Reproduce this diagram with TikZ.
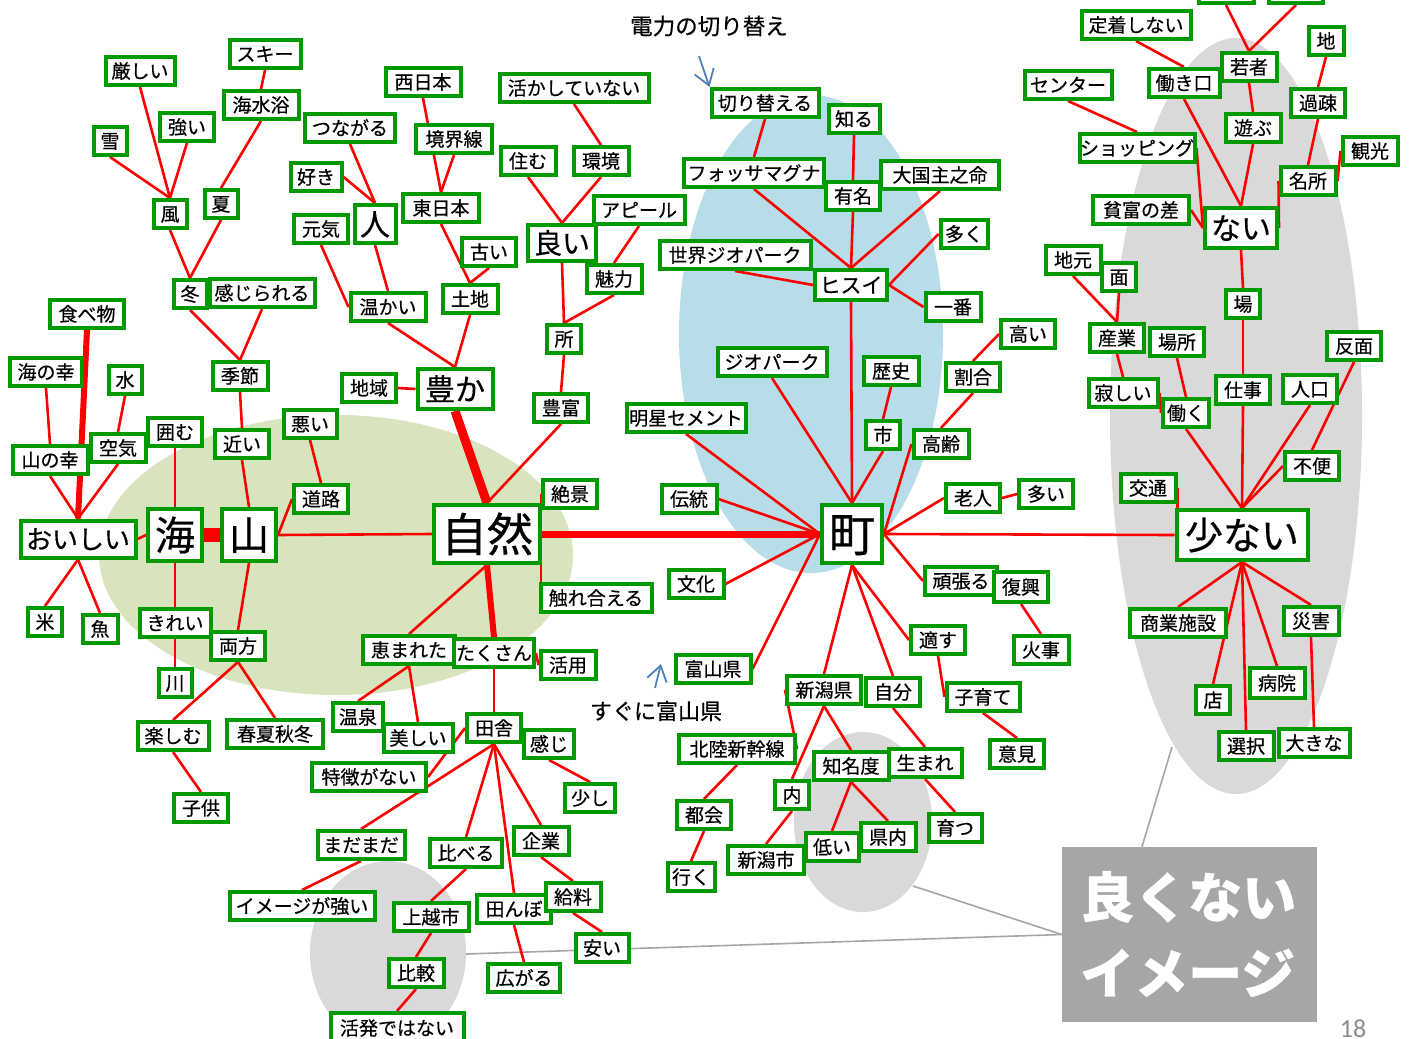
\documentclass[tikz,border=0pt]{standalone}
\usepackage{fontspec}
\setmainfont{Noto Sans CJK JP}[RawFeature={embolden=0.5}]
\newfontfamily\pnfont{Carlito}
\usetikzlibrary{arrows.meta,calc}
\definecolor{boxgreen}{RGB}{0,153,0}
\definecolor{lblue}{RGB}{183,222,232}
\definecolor{lolive}{RGB}{215,228,189}
\definecolor{lgray}{RGB}{217,217,217}
\definecolor{cgray}{RGB}{166,166,166}
\definecolor{abl}{RGB}{79,129,189}
\definecolor{pgray}{RGB}{140,140,140}
\pgfdeclarelayer{bg}
\pgfdeclarelayer{edges}
\pgfsetlayers{bg,edges,main}
\tikzset{
  bx/.style={draw=boxgreen, line width=4pt, fill=white, inner sep=0pt,
    minimum height=28pt, font=\fontsize{19}{19}\selectfont,
    text height=16.7pt, text depth=2.3pt},
  ln/.style={draw=red, line width=2.6pt},
  thk/.style={draw=red, line width=#1},
  callln/.style={draw=cgray, line width=1.6pt},
  barrow/.style={draw=abl, line width=1.8pt, -{Straight Barb[length=15pt,width=20pt,line width=1.8pt]}},
  calltxt/.style={text=white, inner sep=0pt, font=\bfseries\fontsize{54}{54}\selectfont,
    text height=47.5pt, text depth=6.5pt},
}
\begin{document}
\begin{tikzpicture}[x=1pt,y=-1pt]
\useasboundingbox (0,0) rectangle (1409,1039);
\begin{pgfonlayer}{bg}
  \fill[white] (0,0) rectangle (1409,1039);
  \fill[lolive] (336,555) ellipse [x radius=237, y radius=140];
  \fill[lblue] (811,334) ellipse [x radius=132, y radius=239];
  \fill[lgray] (1236,416) ellipse [x radius=126, y radius=378];
  \fill[lgray] (863,822) ellipse [x radius=69, y radius=90];
  \fill[lgray] (388,953) ellipse [x radius=78, y radius=92];
\end{pgfonlayer}

% free texts
\node[font=\fontsize{22.5}{22.5}\selectfont, inner sep=0pt] (title) at (709,26) {電力の切り替え};
\node[font=\fontsize{22}{22}\selectfont, inner sep=0pt] (sugu) at (656,711) {すぐに富山県};
\node[text=pgray, font=\pnfont\fontsize{26}{26}\selectfont, inner sep=0pt, anchor=south] (pnum) at (1353,1038) {18};

% nodes: left area
\node[bx, minimum width=69pt] (kibishii) at (140,71) {厳しい};
\node[bx, minimum width=71pt] (ski) at (265,54) {スキー};
\node[bx, minimum width=33pt] (yuki) at (110,141) {雪};
\node[bx, minimum width=54pt] (tsuyoi) at (187,127) {強い};
\node[bx, minimum width=75pt] (kaisui) at (261,105) {海水浴};
\node[bx, minimum width=90pt] (tsunagaru) at (350,128) {つながる};
\node[bx, minimum width=51pt] (suki) at (316,177) {好き};
\node[bx, minimum width=33pt] (kaze) at (170,214) {風};
\node[bx, minimum width=33pt] (natsu) at (221,204) {夏};
\node[bx, minimum width=54pt] (genki) at (321,229) {元気};
\node[bx, minimum width=41pt, minimum height=38pt, font=\fontsize{30}{30}\selectfont, text height=26.4pt, text depth=3.6pt] (hito) at (375,224) {人};
\node[bx, minimum width=33pt] (fuyu) at (190,294) {冬};
\node[bx, minimum width=105pt] (kanjirareru) at (262,293) {感じられる};
\node[bx, minimum width=74pt] (tabemono) at (87,314) {食べ物};
\node[bx, minimum width=75pt] (nishinihon) at (423,82) {西日本};
\node[bx, minimum width=149pt] (ikashite) at (574,88) {活かしていない};
\node[bx, minimum width=76pt] (kyoukai) at (454,139) {境界線};
\node[bx, minimum width=55pt] (sumu) at (528,161) {住む};
\node[bx, minimum width=55pt] (kankyou) at (601,161) {環境};
\node[bx, minimum width=76pt] (higashinihon) at (441,208) {東日本};
\node[bx, minimum width=91pt] (appeal) at (639,210) {アピール};
\node[bx, minimum width=54pt] (furui) at (489,252) {古い};
\node[bx, minimum width=68pt, minimum height=36pt, font=\fontsize{28}{28}\selectfont, text height=24.6pt, text depth=3.4pt] (yoi) at (562,243) {良い};
\node[bx, minimum width=55pt] (miryoku) at (614,279) {魅力};
\node[bx, minimum width=75pt] (atatakai) at (388,307) {温かい};
\node[bx, minimum width=55pt] (tochi) at (470,299) {土地};
\node[bx, minimum width=34pt] (tokoro) at (564,339) {所};

% top middle
\node[bx, minimum width=107pt] (kirikaeru) at (765,103) {切り替える};
\node[bx, minimum width=51pt] (shiru) at (854,119) {知る};
\node[bx, minimum width=140pt] (fossa) at (754,173) {フォッサマグナ};
\node[bx, minimum width=118pt] (ookuni) at (940,175) {大国主之命};
\node[bx, minimum width=54pt] (yuumei) at (853,196) {有名};
\node[bx, minimum width=47pt] (ooku) at (964,234) {多く};
\node[bx, minimum width=151pt] (sekaigeo) at (735,255) {世界ジオパーク};
\node[bx, minimum width=72pt, minimum height=30pt, font=\fontsize{21}{21}\selectfont, text height=18.5pt, text depth=2.5pt] (hisui) at (851,285) {ヒスイ};
\node[bx, minimum width=55pt] (ichiban) at (953,307) {一番};
\node[bx, minimum width=54pt] (takai) at (1028,334) {高い};

% top right
\node[bx, minimum width=55pt] (topa) at (1226,-11) {};
\node[bx, minimum width=54pt] (topb) at (1296,-11) {};
\node[bx, minimum width=109pt] (teichaku) at (1136,25) {定着しない};
\node[bx, minimum width=35pt] (chi) at (1326,41) {地};
\node[bx, minimum width=87pt] (center) at (1068,85) {センター};
\node[bx, minimum width=71pt] (hatarakiguchi) at (1184,83) {働き口};
\node[bx, minimum width=55pt] (wakamono) at (1249,67) {若者};
\node[bx, minimum width=54pt] (kaso) at (1318,103) {過疎};
\node[bx, minimum width=55pt] (asobu) at (1253,128) {遊ぶ};
\node[bx, minimum width=55pt] (kankou) at (1370,151) {観光};
\node[bx, minimum width=115pt] (shopping) at (1137,148) {ショッピング};
\node[bx, minimum width=55pt] (meisho) at (1308,181) {名所};
\node[bx, minimum width=96pt] (hinpu) at (1141,210) {貧富の差};
\node[bx, minimum width=72pt, minimum height=40pt, font=\fontsize{30}{30}\selectfont, text height=26.4pt, text depth=3.6pt] (nai) at (1241,228) {ない};
\node[bx, minimum width=55pt] (jimoto) at (1073,260) {地元};
\node[bx, minimum width=34pt] (men) at (1119,277) {面};
\node[bx, minimum width=34pt] (ba) at (1243,304) {場};
\node[bx, minimum width=54pt] (sangyou) at (1117,338) {産業};
\node[bx, minimum width=54pt] (basho) at (1177,342) {場所};
\node[bx, minimum width=54pt] (hanmen) at (1354,346) {反面};

% left middle
\node[bx, minimum width=72pt] (uminosachi) at (46,372) {海の幸};
\node[bx, minimum width=33pt] (mizu) at (125,380) {水};
\node[bx, minimum width=55pt] (kisetsu) at (240,376) {季節};
\node[bx, minimum width=54pt] (chiiki) at (369,388) {地域};
\node[bx, minimum width=53pt] (warui) at (310,424) {悪い};
\node[bx, minimum width=54pt] (kakomu) at (175,432) {囲む};
\node[bx, minimum width=55pt] (kuuki) at (118,448) {空気};
\node[bx, minimum width=75pt] (yamanosachi) at (50,460) {山の幸};
\node[bx, minimum width=54pt] (chikai) at (242,444) {近い};
\node[bx, minimum width=54pt] (douro) at (321,499) {道路};
\node[bx, minimum width=115pt, minimum height=37pt, font=\fontsize{26}{26}\selectfont, text height=22.9pt, text depth=3.1pt] (oishii) at (78,539) {おいしい};
\node[bx, minimum width=54pt, minimum height=52pt, font=\fontsize{40}{40}\selectfont, text height=35.2pt, text depth=4.8pt] (umi) at (175,535) {海};
\node[bx, minimum width=54pt, minimum height=52pt, font=\fontsize{40}{40}\selectfont, text height=35.2pt, text depth=4.8pt] (yama) at (249,535) {山};
\node[bx, minimum width=34pt] (kome) at (45,622) {米};
\node[bx, minimum width=35pt] (sakana) at (100,629) {魚};
\node[bx, minimum width=71pt] (kirei) at (175,623) {きれい};
\node[bx, minimum width=54pt] (ryouhou) at (238,646) {両方};
\node[bx, minimum width=33pt] (kawa) at (175,683) {川};
\node[bx, minimum width=75pt, minimum height=40pt, font=\fontsize{30}{30}\selectfont, text height=26.4pt, text depth=3.6pt] (yutaka) at (455,389) {豊か};
\node[bx, minimum width=54pt] (houfu) at (561,408) {豊富};
\node[bx, minimum width=119pt] (myoujou) at (686,418) {明星セメント};
\node[bx, minimum width=54pt] (zekkei) at (570,494) {絶景};
\node[bx, minimum width=55pt] (dentou) at (689,499) {伝統};
\node[bx, minimum width=106pt, minimum height=58pt, font=\fontsize{46}{46}\selectfont, text height=40.5pt, text depth=5.5pt] (shizen) at (487,534) {自然};
\node[bx, minimum width=111pt] (fureau) at (596,598) {触れ合える};
\node[bx, minimum width=55pt] (bunka) at (696,584) {文化};
\node[bx, minimum width=92pt] (megumareta) at (409,650) {恵まれた};
\node[bx, minimum width=80pt] (takusan) at (494,653) {たくさん};
\node[bx, minimum width=55pt] (katsuyou) at (568,665) {活用};
\node[bx, minimum width=75pt] (toyamaken) at (713,669) {富山県};

% center
\node[bx, minimum width=109pt] (geopark) at (772,362) {ジオパーク};
\node[bx, minimum width=55pt] (rekishi) at (891,371) {歴史};
\node[bx, minimum width=54pt] (wariai) at (973,377) {割合};
\node[bx, minimum width=34pt] (shi) at (883,435) {市};
\node[bx, minimum width=55pt] (kourei) at (941,444) {高齢};
\node[bx, minimum width=54pt] (roujin) at (973,498) {老人};
\node[bx, minimum width=54pt] (ooi) at (1046,494) {多い};
\node[bx, minimum width=60pt, minimum height=58pt, font=\fontsize{46}{46}\selectfont, text height=40.5pt, text depth=5.5pt] (machi) at (852,534) {町};
\node[bx, minimum width=72pt] (ganbaru) at (961,581) {頑張る};
\node[bx, minimum width=54pt, minimum height=30pt] (fukkou) at (1021,587) {復興};
\node[bx, minimum width=54pt] (tekisu) at (938,640) {適す};
\node[bx, minimum width=55pt] (kaji) at (1041,650) {火事};

% right middle
\node[bx, minimum width=69pt] (sabishii) at (1123,393) {寂しい};
\node[bx, minimum width=46pt] (hataraku) at (1186,413) {働く};
\node[bx, minimum width=54pt] (shigoto) at (1243,390) {仕事};
\node[bx, minimum width=54pt] (jinkou) at (1310,389) {人口};
\node[bx, minimum width=54pt] (fuben) at (1312,466) {不便};
\node[bx, minimum width=55pt] (koutsuu) at (1148,488) {交通};
\node[bx, minimum width=131pt, minimum height=50pt, font=\fontsize{38}{38}\selectfont, text height=33.4pt, text depth=4.6pt] (sukunai) at (1242,535) {少ない};
\node[bx, minimum width=96pt] (shougyou) at (1178,623) {商業施設};
\node[bx, minimum width=55pt] (saigai) at (1311,621) {災害};
\node[bx, minimum width=55pt, minimum height=30pt] (byouin) at (1277,683) {病院};
\node[bx, minimum width=34pt] (mise) at (1213,700) {店};
\node[bx, minimum width=55pt] (sentaku) at (1246,746) {選択};
\node[bx, minimum width=71pt] (ookina) at (1314,743) {大きな};

% bottom left
\node[bx, minimum width=71pt] (tanoshimu) at (173,736) {楽しむ};
\node[bx, minimum width=96pt] (shunka) at (275,734) {春夏秋冬};
\node[bx, minimum width=54pt] (kodomo) at (201,808) {子供};
\node[bx, minimum width=50pt] (onsen) at (358,717) {温泉};
\node[bx, minimum width=69pt] (utsukushii) at (418,738) {美しい};
\node[bx, minimum width=114pt] (tokuchou) at (369,777) {特徴がない};
\node[bx, minimum width=54pt] (inaka) at (494,728) {田舎};
\node[bx, minimum width=50pt] (kanji) at (549,744) {感じ};
\node[bx, minimum width=50pt] (sukoshi) at (590,798) {少し};
\node[bx, minimum width=87pt] (madamada) at (361,845) {まだまだ};
\node[bx, minimum width=145pt] (image) at (302,906) {イメージが強い};
\node[bx, minimum width=72pt] (kuraberu) at (466,853) {比べる};
\node[bx, minimum width=55pt] (kigyou) at (541,841) {企業};
\node[bx, minimum width=75pt] (jouetsu) at (431,917) {上越市};
\node[bx, minimum width=74pt] (tanbo) at (514,909) {田んぼ};
\node[bx, minimum width=55pt] (kyuuryou) at (573,897) {給料};
\node[bx, minimum width=53pt] (yasui) at (602,948) {安い};
\node[bx, minimum width=55pt] (hikaku) at (416,973) {比較};
\node[bx, minimum width=72pt] (hirogaru) at (524,978) {広がる};
\node[bx, minimum width=133pt, minimum height=30pt] (kappatsu) at (397,1028) {活発ではない};

% bottom middle
\node[bx, minimum width=74pt] (niigataken) at (824,690) {新潟県};
\node[bx, minimum width=54pt] (jibun) at (893,692) {自分};
\node[bx, minimum width=73pt] (kosodate) at (983,697) {子育て};
\node[bx, minimum width=116pt] (hokuriku) at (737,749) {北陸新幹線};
\node[bx, minimum width=75pt] (chimeido) at (851,766) {知名度};
\node[bx, minimum width=73pt] (umare) at (925,763) {生まれ};
\node[bx, minimum width=54pt] (iken) at (1017,754) {意見};
\node[bx, minimum width=34pt] (uchi) at (792,795) {内};
\node[bx, minimum width=54pt] (tokai) at (704,815) {都会};
\node[bx, minimum width=53pt] (sodatsu) at (955,828) {育つ};
\node[bx, minimum width=55pt] (kennai) at (888,837) {県内};
\node[bx, minimum width=53pt] (hikui) at (832,847) {低い};
\node[bx, minimum width=76pt] (niigatashi) at (766,860) {新潟市};
\node[bx, minimum width=47pt] (iku) at (691,877) {行く};

% callout
\node[fill=cgray, inner sep=0pt, minimum width=255pt, minimum height=175pt] (callout) at (1189.5,934.5) {};
\node[calltxt, anchor=west] (cl1) at (1080,897) {良くない};
\node[calltxt, anchor=west] (cl2) at (1080,973) {イメージ};
\coordinate (ce1) at (1172,747);
\coordinate (ce2) at (913,886);
\coordinate (ce3) at (466,954);
\coordinate (cs1) at ($(callout.north west)!0.314!(callout.north east)$);

% blue arrows
\coordinate (ba1) at (699,56);
\coordinate (ba2) at (655,688);
\coordinate (bt2) at (661,664);

\begin{pgfonlayer}{edges}
  \draw[callln] (cs1) -- (ce1);
  \draw[callln] (callout.west) -- (ce2);
  \draw[callln] (callout.west) -- (ce3);
  \draw[barrow] (ba1) -- (kirikaeru.north west);
  \draw[barrow] (ba2) -- (bt2);

  \draw[ln] (kibishii.south) -- (kaze.north);
  \draw[ln] (yuki.south) -- (kaze.north);
  \draw[ln] (tsuyoi.south) -- (kaze.north);
  \draw[ln] (ski.south) -- (kaisui.north);
  \draw[ln] (kaisui.south) -- (natsu.north);
  \draw[ln] (kaze.south) -- (fuyu.north);
  \draw[ln] (natsu.south) -- (fuyu.north);
  \draw[ln] (fuyu.south) -- (kisetsu.north);
  \draw[ln] (kanjirareru.south) -- (kisetsu.north);
  \draw[ln] (suki.east) -- (hito.north);
  \draw[ln] (tsunagaru.south) -- (hito.north);
  \draw[ln] (genki.south) -- (atatakai.west);
  \draw[ln] (hito.south) -- (atatakai.north);
  \draw[ln] (atatakai.south) -- (yutaka.north);
  \draw[ln] (tochi.south) -- (yutaka.north);
  \draw[ln] (nishinihon.south) -- (higashinihon.north);
  \draw[ln] (kyoukai.south) -- (higashinihon.north);
  \draw[ln] (higashinihon.south) -- (tochi.north);
  \draw[ln] (furui.south) -- (tochi.north);
  \draw[ln] (ikashite.south) -- (kankyou.north);
  \draw[ln] (sumu.south) -- (yoi.north);
  \draw[ln] (kankyou.south) -- (yoi.north);
  \draw[ln] (appeal.south) -- (miryoku.north);
  \draw[ln] (yoi.south) -- (tokoro.north);
  \draw[ln] (miryoku.south) -- (tokoro.north);
  \draw[ln] (tokoro.south) -- (houfu.north);
  \draw[ln] (houfu.south) -- (shizen.north);
  \draw[thk=9pt] (yutaka.south) -- (shizen.north);
  \draw[ln] (chiiki.east) -- (yutaka.west);
  \draw[thk=6pt] (tabemono.south) -- (oishii.north);
  \draw[ln] (uminosachi.south) -- (yamanosachi.north);
  \draw[ln] (mizu.south) -- (kuuki.north);
  \draw[ln] (yamanosachi.south) -- (oishii.north);
  \draw[ln] (kuuki.south) -- (oishii.north);
  \draw[ln] (oishii.east) -- (umi.west);
  \draw[thk=14pt] (umi.east) -- (yama.west);
  \draw[ln] (kakomu.south) -- (umi.north);
  \draw[ln] (kisetsu.south) -- (chikai.north);
  \draw[ln] (chikai.south) -- (yama.north);
  \draw[ln] (warui.south) -- (douro.north);
  \draw[ln] (douro.west) -- (yama.east);
  \draw[ln] (yama.east) -- (shizen.west);
  \draw[ln] (oishii.south) -- (kome.north);
  \draw[ln] (oishii.south) -- (sakana.north);
  \draw[ln] (umi.south) -- (kirei.north);
  \draw[ln] (kirei.south) -- (kawa.north);
  \draw[ln] (yama.south) -- (ryouhou.north);
  \draw[ln] (ryouhou.south) -- (tanoshimu.north);
  \draw[ln] (ryouhou.south) -- (shunka.north);
  \draw[ln] (tanoshimu.south) -- (kodomo.north);
  \draw[thk=7pt] (shizen.east) -- (machi.west);
  \draw[ln] (zekkei.west) -- (zekkei.west |- fureau.west);
  \draw[ln] (shizen.south) -- (megumareta.north);
  \draw[thk=6pt] (shizen.south) -- (takusan.north);
  \draw[ln] (takusan.east) -- (katsuyou.west);
  \draw[ln] (megumareta.south) -- (onsen.north);
  \draw[ln] (megumareta.south) -- (utsukushii.north);
  \draw[ln] (takusan.south) -- (inaka.north);
  \draw[ln] (inaka.east) -- (inaka.east |- kanji.west);
  \draw[ln] (kanji.south) -- (sukoshi.north);
  \draw[ln] (inaka.west) -- (tokuchou.east);
  \draw[ln] (inaka.south) -- (madamada.north);
  \draw[ln] (inaka.south) -- (kuraberu.north);
  \draw[ln] (inaka.south) -- (tanbo.north);
  \draw[ln] (inaka.south) -- (kigyou.north);
  \draw[ln] (kigyou.south) -- (kyuuryou.north);
  \draw[ln] (kyuuryou.south) -- (yasui.north);
  \draw[ln] (kuraberu.south) -- (jouetsu.north);
  \draw[ln] (jouetsu.south) -- (hikaku.north);
  \draw[ln] (hikaku.south) -- (kappatsu.north);
  \draw[ln] (tanbo.south) -- (hirogaru.north);
  \draw[ln] (madamada.south) -- (image.north);
  \draw[ln] (kirikaeru.south) -- (fossa.north);
  \draw[ln] (shiru.south) -- (yuumei.north);
  \draw[ln] (fossa.south) -- (hisui.north);
  \draw[ln] (yuumei.south) -- (hisui.north);
  \draw[ln] (ookuni.south) -- (hisui.north);
  \draw[ln] (sekaigeo.south) -- (hisui.west);
  \draw[ln] (ooku.west) -- (hisui.east);
  \draw[ln] (ichiban.west) -- (hisui.east);
  \draw[ln] (hisui.south) -- (machi.north);
  \draw[ln] (geopark.south) -- (machi.north);
  \draw[ln] (myoujou.south) -- (machi.west);
  \draw[ln] (dentou.east) -- (machi.west);
  \draw[ln] (bunka.east) -- (machi.west);
  \draw[ln] (toyamaken.east) -- (machi.west);
  \draw[ln] (rekishi.south) -- (shi.north);
  \draw[ln] (shi.south) -- (machi.north);
  \draw[ln] (takai.west) -- (wariai.north);
  \draw[ln] (wariai.south) -- (kourei.north);
  \draw[ln] (kourei.west) -- (machi.east);
  \draw[ln] (roujin.west) -- (machi.east);
  \draw[ln] (roujin.east) -- (ooi.west);
  \draw[ln] (machi.east) -- (sukunai.west);
  \draw[ln] (machi.east) -- (ganbaru.west);
  \draw[ln] (ganbaru.east) -- (fukkou.west);
  \draw[ln] (fukkou.south) -- (kaji.north);
  \draw[ln] (machi.south) -- (tekisu.west);
  \draw[ln] (machi.south) -- (jibun.north);
  \draw[ln] (machi.south) -- (niigataken.north);
  \draw[ln] (tekisu.south) -- (kosodate.west);
  \draw[ln] (kosodate.south) -- (iken.north);
  \draw[ln] (niigataken.west) -- (hokuriku.east);
  \draw[ln] (niigataken.south) -- (uchi.north);
  \draw[ln] (niigataken.south) -- (chimeido.north);
  \draw[ln] (uchi.south) -- (niigatashi.north);
  \draw[ln] (hokuriku.south) -- (tokai.north);
  \draw[ln] (tokai.south) -- (iku.north);
  \draw[ln] (jibun.south) -- (umare.north);
  \draw[ln] (umare.south) -- (sodatsu.north);
  \draw[ln] (chimeido.south) -- (hikui.north);
  \draw[ln] (chimeido.south) -- (kennai.north);
  \draw[ln] (topa.south) -- (wakamono.north);
  \draw[ln] (topb.south) -- (wakamono.north);
  \draw[ln] (teichaku.south) -- (hatarakiguchi.north);
  \draw[ln] (center.south) -- (shopping.north);
  \draw[ln] (hatarakiguchi.south) -- (nai.north);
  \draw[ln] (wakamono.south) -- (asobu.north);
  \draw[ln] (asobu.south) -- (nai.north);
  \draw[ln] (shopping.east) -- (nai.west);
  \draw[ln] (hinpu.east) -- (nai.west);
  \draw[ln] (chi.south) -- (kaso.north);
  \draw[ln] (kaso.south) -- (meisho.north);
  \draw[ln] (kankou.west) -- (meisho.east);
  \draw[ln] (meisho.west) -- (nai.east);
  \draw[ln] (nai.south) -- (ba.north);
  \draw[ln] (ba.south) -- (shigoto.north);
  \draw[ln] (jimoto.south) -- (sangyou.north);
  \draw[ln] (men.south) -- (sangyou.north);
  \draw[ln] (sangyou.south) -- (sabishii.north);
  \draw[ln] (sabishii.east) -- (hataraku.west);
  \draw[ln] (basho.south) -- (hataraku.north);
  \draw[ln] (hataraku.south) -- (sukunai.north);
  \draw[ln] (shigoto.south) -- (sukunai.north);
  \draw[ln] (jinkou.south) -- (sukunai.north);
  \draw[ln] (hanmen.south) -- (fuben.north);
  \draw[ln] (fuben.west) -- (sukunai.north);
  \draw[ln] (koutsuu.east) -- (koutsuu.east |- sukunai.west);
  \draw[ln] (sukunai.south) -- (shougyou.north);
  \draw[ln] (sukunai.south) -- (mise.north);
  \draw[ln] (sukunai.south) -- (sentaku.north);
  \draw[ln] (sukunai.south) -- (byouin.north);
  \draw[ln] (sukunai.south) -- (saigai.north);
  \draw[ln] (saigai.south) -- (ookina.north);
\end{pgfonlayer}
\end{tikzpicture}
\end{document}
